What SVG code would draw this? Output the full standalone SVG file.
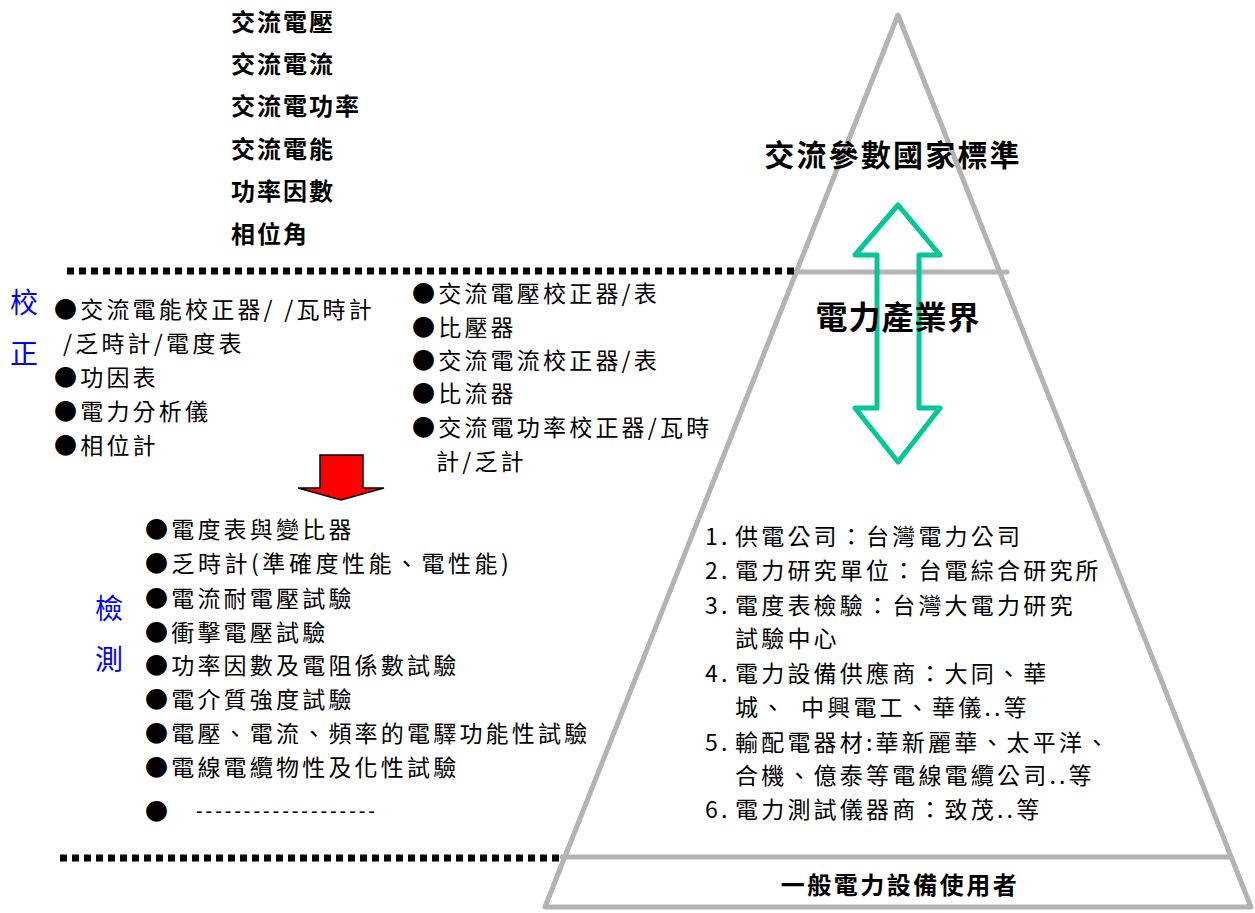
<svg xmlns="http://www.w3.org/2000/svg" width="1255" height="913" viewBox="0 0 1255 913">
<style>
text{font-family:"Noto Sans CJK TC","Noto Sans CJK SC",sans-serif;fill:#000}
.b{font-weight:bold;font-size:24px;letter-spacing:2px}
.t{font-size:23px;letter-spacing:3.2px}
.blue{font-size:28px;fill:#0000ff}
.pyr{fill:none;stroke:#b3b3b3;stroke-width:5;stroke-linejoin:round;stroke-linecap:round}
.dot{stroke:#000;stroke-width:7;stroke-dasharray:7 5;fill:none}
</style>
<rect width="1255" height="913" fill="#fff"/>
<g id="pyramid">
<polygon class="pyr" points="898,15 545,907 1251,907"/>
<line class="pyr" x1="790" y1="272" x2="1007" y2="272"/>
<line class="pyr" x1="562" y1="857" x2="1229" y2="857"/>
</g>
<g id="dividers">
<line class="dot" x1="67" y1="271" x2="795" y2="271"/>
<line class="dot" x1="60" y1="858" x2="562" y2="858"/>
</g>
<g id="connectors">
<polygon points="898,205 940,255 919,255 919,408 940,408 898,462 855,408 877,408 877,255 855,255" fill="none" stroke="#00c896" stroke-width="5" stroke-linejoin="round"/>
<polygon points="320,455 363,455 363,488 384,488 341,500 298,488 320,488" fill="#ff0000" stroke="#000" stroke-width="1.5"/>
</g>
<g id="ac-params">
<text class="b" x="231" y="31">交流電壓</text>
<text class="b" x="231" y="73">交流電流</text>
<text class="b" x="231" y="115">交流電功率</text>
<text class="b" x="231" y="158">交流電能</text>
<text class="b" x="231" y="200">功率因數</text>
<text class="b" x="231" y="243">相位角</text>
</g>
<g id="calibration">
<text class="blue" x="10" y="313">校</text>
<text class="blue" x="10" y="364">正</text>
<text class="t" x="54" y="318">●交流電能校正器/ /瓦時計</text>
<text class="t" x="63" y="352">/乏時計/電度表</text>
<text class="t" x="54" y="386">●功因表</text>
<text class="t" x="54" y="420">●電力分析儀</text>
<text class="t" x="54" y="454">●相位計</text>
<text class="t" x="412" y="302">●交流電壓校正器/表</text>
<text class="t" x="412" y="336">●比壓器</text>
<text class="t" x="412" y="369">●交流電流校正器/表</text>
<text class="t" x="412" y="402">●比流器</text>
<text class="t" x="412" y="436">●交流電功率校正器/瓦時</text>
<text class="t" x="436" y="470">計/乏計</text>
</g>
<g id="testing">
<text class="blue" x="95" y="619">檢</text>
<text class="blue" x="95" y="670">測</text>
<text class="t" x="145" y="538">●電度表與變比器</text>
<text class="t" x="145" y="572" textLength="367" lengthAdjust="spacing">●乏時計(準確度性能、電性能)</text>
<text class="t" x="145" y="607">●電流耐電壓試驗</text>
<text class="t" x="145" y="641">●衝擊電壓試驗</text>
<text class="t" x="145" y="674">●功率因數及電阻係數試驗</text>
<text class="t" x="145" y="708">●電介質強度試驗</text>
<text class="t" x="145" y="742">●電壓、電流、頻率的電驛功能性試驗</text>
<text class="t" x="145" y="776">●電線電纜物性及化性試驗</text>
<text class="t" x="145" y="820">●</text>
<text x="196" y="818" font-size="20" textLength="179" lengthAdjust="spacing" style="font-family:'Liberation Sans',sans-serif">-------------------</text>
</g>
<g id="national-standard">
<text x="893" y="166" text-anchor="middle" font-size="30" font-weight="bold" letter-spacing="2.2">交流參數國家標準</text>
</g>
<g id="industry">
<text x="898" y="329" text-anchor="middle" font-size="32" font-weight="bold" letter-spacing="1">電力產業界</text>
<text class="t" x="705" y="545">1.<tspan x="735">供電公司：台灣電力公司</tspan></text>
<text class="t" x="705" y="579">2.<tspan x="735">電力研究單位：台電綜合研究所</tspan></text>
<text class="t" x="705" y="614">3.<tspan x="735">電度表檢驗：台灣大電力研究</tspan></text>
<text class="t" x="735" y="647">試驗中心</text>
<text class="t" x="705" y="682">4.<tspan x="735">電力設備供應商：大同、華</tspan></text>
<text class="t" x="735" y="716">城、<tspan x="801">中興電工、華儀..等</tspan></text>
<text class="t" x="705" y="751">5.<tspan x="735">輸配電器材:華新麗華、太平洋、</tspan></text>
<text class="t" x="735" y="784">合機、億泰等電線電纜公司..等</text>
<text class="t" x="705" y="818">6.<tspan x="735">電力測試儀器商：致茂..等</tspan></text>
</g>
<g id="users">
<text x="900" y="894" text-anchor="middle" font-size="24" font-weight="bold" letter-spacing="2.5">一般電力設備使用者</text>
</g>
</svg>
